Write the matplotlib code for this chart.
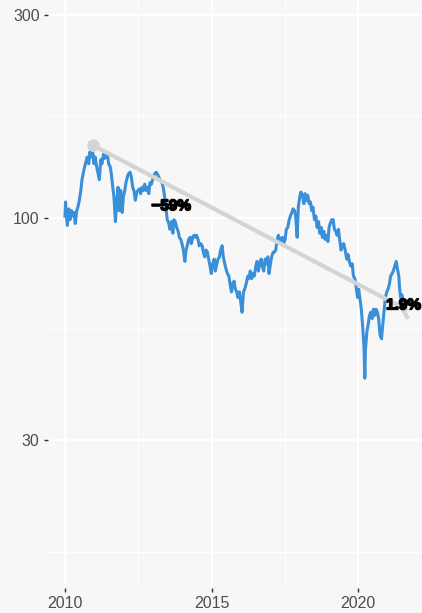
import matplotlib
matplotlib.use("Agg")
import matplotlib.pyplot as plt
import matplotlib.patheffects as pe
from matplotlib.ticker import FixedLocator, NullFormatter

plt.rcParams['font.family'] = ['Liberation Sans', 'DejaVu Sans']

# price index, decimal years
years = [2010.00, 2010.02, 2010.03, 2010.08, 2010.13, 2010.17, 2010.22, 2010.26, 2010.31, 2010.35,
         2010.40, 2010.44, 2010.49, 2010.54, 2010.58, 2010.65, 2010.72, 2010.76, 2010.81, 2010.85,
         2010.90, 2010.95, 2010.99, 2011.03, 2011.08, 2011.13, 2011.17, 2011.22, 2011.26, 2011.31,
         2011.35, 2011.40, 2011.44, 2011.49, 2011.54, 2011.58, 2011.63, 2011.67, 2011.72, 2011.76,
         2011.81, 2011.85, 2011.90, 2011.95, 2011.99, 2012.04, 2012.08, 2012.13, 2012.17, 2012.22,
         2012.26, 2012.31, 2012.35, 2012.40, 2012.45, 2012.49, 2012.54, 2012.58, 2012.63, 2012.67,
         2012.72, 2012.76, 2012.81, 2012.86, 2012.90, 2012.95, 2012.99, 2013.06, 2013.11, 2013.17,
         2013.24, 2013.31, 2013.35, 2013.40, 2013.45, 2013.49, 2013.54, 2013.58, 2013.63, 2013.68,
         2013.72, 2013.76, 2013.81, 2013.86, 2013.90, 2013.95, 2013.99, 2014.04, 2014.09, 2014.13,
         2014.17, 2014.22, 2014.27, 2014.31, 2014.36, 2014.40, 2014.45, 2014.49, 2014.54, 2014.58,
         2014.63, 2014.68, 2014.72, 2014.77, 2014.81, 2014.86, 2014.90, 2014.95, 2014.99, 2015.04,
         2015.09, 2015.13, 2015.18, 2015.22, 2015.27, 2015.31, 2015.36, 2015.40, 2015.45, 2015.49,
         2015.54, 2015.59, 2015.63, 2015.68, 2015.72, 2015.77, 2015.81, 2015.86, 2015.90, 2015.95,
         2015.99, 2016.04, 2016.09, 2016.13, 2016.18, 2016.24, 2016.28, 2016.32, 2016.37, 2016.42,
         2016.46, 2016.51, 2016.55, 2016.60, 2016.64, 2016.69, 2016.73, 2016.78, 2016.83, 2016.87,
         2016.92, 2016.96, 2017.01, 2017.05, 2017.10, 2017.14, 2017.19, 2017.24, 2017.28, 2017.33,
         2017.37, 2017.42, 2017.46, 2017.51, 2017.55, 2017.60, 2017.65, 2017.69, 2017.74, 2017.78,
         2017.83, 2017.87, 2017.92, 2017.96, 2018.01, 2018.05, 2018.10, 2018.15, 2018.19, 2018.24,
         2018.28, 2018.33, 2018.37, 2018.42, 2018.46, 2018.51, 2018.56, 2018.60, 2018.65, 2018.69,
         2018.74, 2018.78, 2018.83, 2018.87, 2018.92, 2018.97, 2019.01, 2019.05, 2019.10, 2019.15,
         2019.19, 2019.24, 2019.28, 2019.33, 2019.38, 2019.42, 2019.46, 2019.51, 2019.56, 2019.61,
         2019.66, 2019.70, 2019.75, 2019.80, 2019.84, 2019.89, 2019.93, 2019.98, 2020.02, 2020.07,
         2020.11, 2020.16, 2020.20, 2020.23, 2020.25, 2020.30, 2020.34, 2020.39, 2020.43, 2020.48,
         2020.52, 2020.57, 2020.61, 2020.66, 2020.70, 2020.75, 2020.80, 2020.84, 2020.89, 2020.93,
         2020.98, 2021.02, 2021.07, 2021.11, 2021.16, 2021.20, 2021.25, 2021.30, 2021.34, 2021.39,
         2021.41, 2021.45, 2021.49, 2021.54, 2021.58, 2021.62]
values = [101, 109, 104, 96, 105, 99, 104, 101, 103, 97,
          104, 106, 110, 116, 123, 130, 136, 139, 134, 143,
          139, 142, 134, 139, 132, 127, 123, 137, 134, 141,
          138, 139, 142, 134, 132, 127, 118, 112, 98, 108,
          118, 104, 116, 103, 112, 116, 121, 125, 127, 128,
          125, 118, 116, 110, 115, 116, 117, 114, 118, 116,
          120, 116, 118, 114, 121, 120, 123, 127, 128, 126,
          123, 121, 118, 112, 104, 99, 97, 94, 98, 92,
          99, 98, 95, 93, 90, 89, 87, 84, 79, 84,
          86, 89, 90, 87, 90, 91, 90, 91, 89, 86,
          87, 86, 83, 81, 84, 83, 80, 77, 74, 78,
          80, 75, 78, 80, 81, 84, 86, 81, 78, 76,
          74, 73, 70, 67, 70, 71, 68, 67, 65, 67,
          64, 60, 67, 68, 70, 73, 72, 75, 72, 74,
          73, 77, 79, 75, 78, 80, 77, 75, 80, 78,
          81, 74, 78, 81, 83, 83, 84, 89, 91, 89,
          88, 90, 87, 89, 94, 95, 99, 101, 103, 105,
          104, 101, 90, 106, 112, 115, 113, 108, 114, 110,
          113, 108, 109, 104, 106, 99, 101, 95, 98, 92,
          95, 90, 93, 89, 91, 88, 95, 97, 99, 99,
          94, 93, 91, 94, 88, 84, 86, 87, 84, 80,
          82, 79, 77, 78, 73, 72, 69, 65, 68, 64,
          61, 55, 50, 42, 49, 54, 56, 59, 60, 58,
          61, 59, 61, 60, 58, 53, 52, 56, 61, 65,
          67, 68, 70, 73, 74, 75, 77, 79, 76, 73,
          69, 65, 66, 64, 62, 61]

# peak-to-now trend and last move
trend_years = [2010.96, 2021.62]
trend_values = [148, 61]
recent_years = [2021.48, 2021.67]
recent_values = [61.5, 58.5]

labels = ["\u221259%", "1.9%"]
label_years = [2013.62, 2021.55]
label_values = [106.5, 62.3]

y_ticks = [30, 100, 300]
y_minor = [16.43, 54.77, 173.2]
x_ticks = [2010, 2015, 2020]
x_minor = [2012.5, 2017.5]

bg = '#f7f7f7'
fig = plt.figure(figsize=(4.22, 6.13), dpi=100, facecolor=bg)
ax = fig.add_axes([48 / 422, 1 - 588 / 613, 1 - 48 / 422, 588 / 613])
ax.set_facecolor(bg)

ax.set_yscale('log')
ax.set_xlim(2009.42, 2022.18)
ax.set_ylim(13.5, 325)

ax.yaxis.set_major_locator(FixedLocator(y_ticks))
ax.yaxis.set_minor_locator(FixedLocator(y_minor))
ax.yaxis.set_minor_formatter(NullFormatter())
ax.set_yticklabels([str(t) for t in y_ticks])
ax.xaxis.set_major_locator(FixedLocator(x_ticks))
ax.xaxis.set_minor_locator(FixedLocator(x_minor))
ax.set_xticklabels([str(t) for t in x_ticks])

ax.grid(which='major', color='white', linewidth=1.6)
ax.grid(which='minor', color='white', linewidth=0.8)
ax.set_axisbelow(True)
for s in ax.spines.values():
    s.set_visible(False)
ax.tick_params(which='major', length=3, width=1, color='#333333', labelsize=11.5,
               labelcolor='#4d4d4d', pad=3)
ax.tick_params(which='minor', length=0)

ax.plot(years, values, color='#3a8fd9', linewidth=2.2, solid_joinstyle='round', zorder=3)
ax.plot(trend_years, trend_values, color='#d4d4d4', linewidth=3, zorder=4,
        solid_capstyle='round')
ax.plot(trend_years[:1], trend_values[:1], 'o', color='#d4d4d4', markersize=8, zorder=4)
ax.plot(recent_years, recent_values, color='#d4d4d4', linewidth=3, zorder=4)

halo = [pe.withStroke(linewidth=1.2, foreground='black')]
for t, xv, yv in zip(labels, label_years, label_values):
    ax.text(xv, yv, t, ha='center', va='center', fontsize=11, fontweight='bold',
            color='black', zorder=5, path_effects=halo)

fig.savefig('out.png', dpi=100, facecolor=bg)
